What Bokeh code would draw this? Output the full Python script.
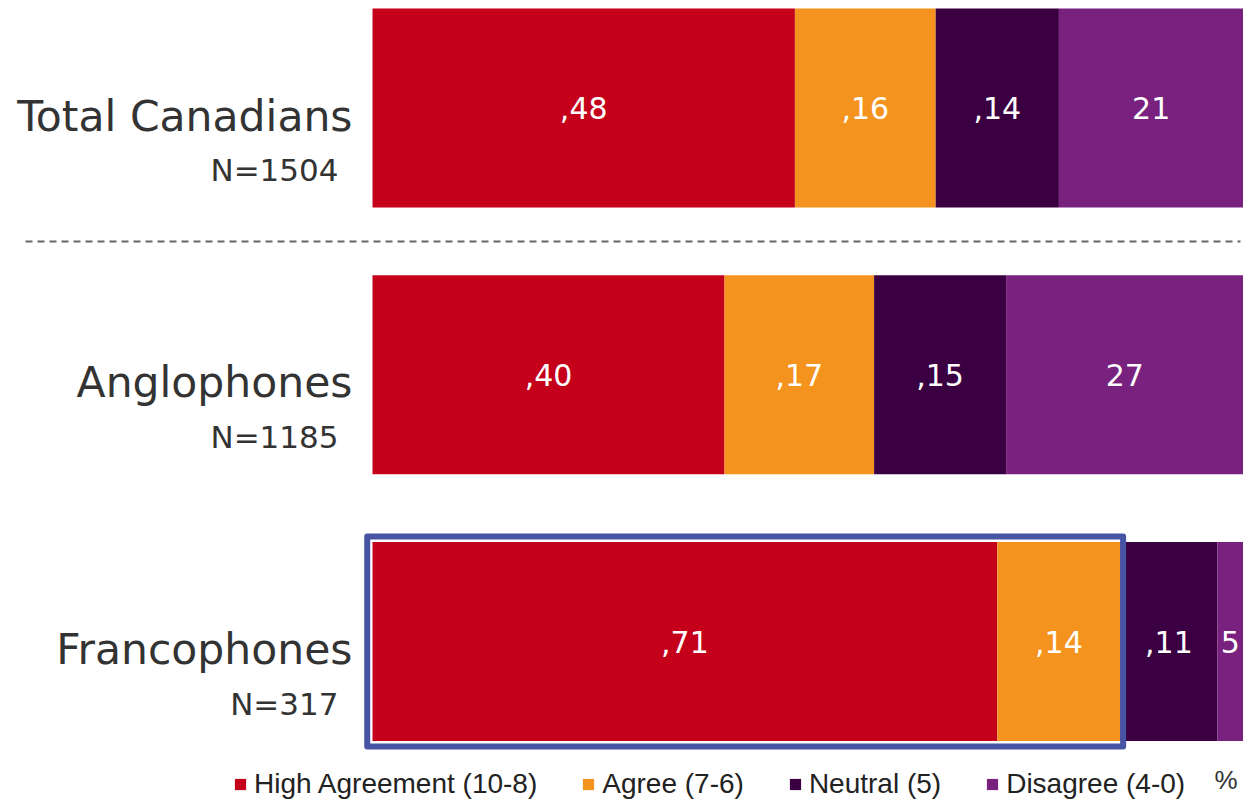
from bokeh.plotting import figure
from bokeh.models import Range1d, ColumnDataSource, Legend, LegendItem, Label
from bokeh.core.properties import value
from bokeh.embed import file_html
from bokeh.resources import INLINE

# ---- data ----
categories = ["Total Canadians", "Anglophones", "Francophones"]
sample_sizes = ["N=1504", "N=1185", "N=317"]
series = ["High Agreement (10-8)", "Agree (7-6)", "Neutral (5)", "Disagree (4-0)"]
high_agreement = [48, 40, 71]
agree = [16, 17, 14]
neutral = [14, 15, 11]
disagree = [21, 27, 5]
highlighted = "Francophones"

# ---- style / layout ----
colors = ["#C4001A", "#F4931E", "#3B0041", "#79217E"]
W, H = 1243, 802
PX_PER_UNIT = 8.8
X0_PX = 372
x_start = -X0_PX / PX_PER_UNIT
x_end = (W - X0_PX) / PX_PER_UNIT
ROW_PX = 266.75
TOP_PX = 107.5
y_end = -TOP_PX / ROW_PX
y_start = y_end + H / ROW_PX
BAR_H = 199 / ROW_PX

p = figure(width=W, height=H, x_range=Range1d(x_start, x_end),
           y_range=Range1d(y_start, y_end), output_backend="svg",
           toolbar_location=None, min_border=0, outline_line_color=None,
           x_axis_location=None, y_axis_location=None)
p.grid.visible = False
p.background_fill_color = "white"
p.border_fill_color = "white"

ys = list(range(len(categories)))
left = [0] * len(categories)
renderers = []
lx, ly, lt = [], [], []
for k, (vals, col) in enumerate(zip([high_agreement, agree, neutral, disagree], colors)):
    right = [a + b for a, b in zip(left, vals)]
    src = ColumnDataSource(dict(y=ys, left=left, right=right))
    r = p.hbar(y="y", left="left", right="right", height=BAR_H, source=src,
               fill_color=col, line_color=None)
    renderers.append(r)
    for i, v in enumerate(vals):
        lx.append((left[i] + min(right[i], x_end)) / 2)
        ly.append(ys[i])
        lt.append(("," if k < 3 else "") + str(v))
    left = right

p.text(x=lx, y=ly, text=lt, text_color="#FFFFFF", text_font=value("DejaVu Sans"),
       text_font_size="30px", text_align="center", text_baseline="middle")

# category names and sample sizes
zeros = [0] * len(categories)
p.text(x=zeros, y=ys, text=categories, x_offset=-20, y_offset=8, text_align="right",
       text_baseline="middle", text_font=value("DejaVu Sans"), text_font_size="42.5px",
       text_color="#333333")
p.text(x=zeros, y=ys, text=sample_sizes, x_offset=-34, y_offset=62, text_align="right",
       text_baseline="middle", text_font=value("DejaVu Sans"), text_font_size="31px",
       text_color="#333333")

# dashed separator between total and subgroups
sep_x0 = (25 - X0_PX) / PX_PER_UNIT
sep_x1 = (1240 - X0_PX) / PX_PER_UNIT
p.segment(x0=[sep_x0], x1=[sep_x1], y0=[0.5], y1=[0.5], line_color="#666666",
          line_width=2, line_dash="7 5")

# highlight box around Francophones agreement
hi = categories.index(highlighted)
pad_y = 5.5 / ROW_PX
p.quad(left=[-0.6], right=[high_agreement[hi] + agree[hi] + 0.3],
       top=[hi - BAR_H / 2 - pad_y], bottom=[hi + BAR_H / 2 + pad_y],
       fill_color=None, line_color="#4654A3", line_width=6, line_join="round")

legend = Legend(items=[LegendItem(label=s, renderers=[r]) for s, r in zip(series, renderers)],
                location=(233, 2), orientation="horizontal", glyph_width=14, glyph_height=14,
                label_standoff=7, spacing=44, padding=0, margin=0,
                border_line_alpha=0, background_fill_alpha=0,
                label_text_font="Liberation Sans", label_text_font_size="28px",
                label_text_color="#222222")
p.add_layout(legend)

p.add_layout(Label(x=1214, y=8, x_units="screen", y_units="screen", text="%",
                   text_font="Liberation Sans", text_font_size="26px", text_color="#333333"))

open("out.html", "w").write(file_html(p, INLINE))
